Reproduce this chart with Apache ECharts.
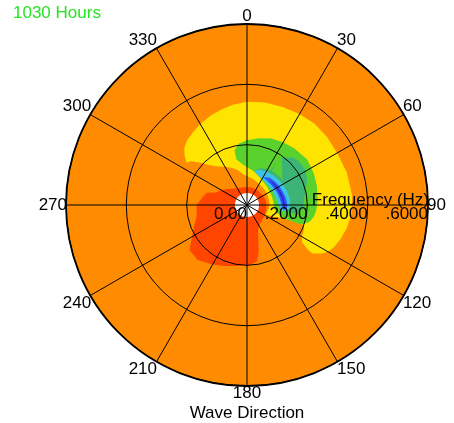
<!DOCTYPE html>
<html>
<head>
<meta charset="utf-8">
<script src="https://cdn.jsdelivr.net/npm/echarts/dist/echarts.min.js"></script>
<style>
	body { margin: 0; background: #fff; }
	#main { width: 454px; height: 423px; }
</style>
</head>
<body>
<div id="main"></div>
<script>
// frequency range of the spectrum (Hz)
var minFreq = 0.04;
var maxFreq = 0.6;

// each band: direction (deg, from north, clockwise), inner and outer frequency (Hz)
var yellowDir = [305, 308, 312, 317, 323, 330, 338, 345, 352, 0, 10, 20, 30, 40, 50, 60, 72, 85, 95, 103, 110, 116, 120, 123, 126.5];
var yellowIn  = [.245, .235, .21, .18, .16, .146, .132, .12, .105, .095, .09, .085, .08, .078, .077, .076, .075, .075, .074, .072, .07, .068, .068, .068, .27];
var yellowOut = [.245, .262, .28, .292, .30, .31, .32, .328, .336, .342, .345, .346, .348, .35, .348, .345, .348, .35, .347, .34, .33, .32, .31, .295, .27];

var wedgeDir = [109, 110, 113, 115.5, 117, 120, 124, 127, 130];
var wedgeIn  = [.19, .127, .105, .085, .068, .065, .065, .065, .065];
var wedgeOut = [.19, .2, .205, .207, .208, .21, .22, .26, .27];

var greenDir = [347, 352, 0, 10, 20, 30, 40, 53, 65, 75, 86, 95, 100, 105, 108, 110];
var greenIn  = [.155, .14, .125, .115, .105, .097, .092, .088, .087, .087, .088, .09, .095, .105, .12, .13];
var greenOut = [.185, .205, .215, .225, .235, .24, .245, .25, .245, .24, .235, .23, .225, .215, .2, .185];

var seaDir = [12, 20, 28, 34, 37, 44, 50, 59, 68, 76, 85, 93, 100];
var seaIn  = [.118, .12, .124, .126, .127, .13, .132, .135, .138, .14, .142, .138, .13];
var seaOut = [.118, .13, .136, .14, .195, .22, .225, .226, .215, .2, .19, .185, .165];

var notchDir = [36, 40, 45, 50, 55];
var notchIn  = [.14, .141, .142, .143, .144];
var notchOut = [.197, .18, .165, .152, .144];

var cyanDir = [12, 20, 30, 40, 50, 60, 70, 80, 90, 96, 100];
var cyanIn  = [.115, .106, .099, .096, .095, .096, .098, .1, .104, .11, .122];
var cyanOut = [.115, .124, .128, .131, .134, .137, .14, .143, .144, .138, .122];

var blueDir = [30, 40, 50, 60, 70, 80, 90, 95, 98];
var blueIn  = [.107, .104, .104, .106, .108, .111, .115, .119, .124];
var blueOut = [.107, .118, .121, .124, .127, .131, .134, .132, .124];

var navyDir = [42, 50, 60, 70, 80, 90, 95];
var navyIn  = [.111, .11, .112, .114, .117, .121, .125];
var navyOut = [.111, .115, .118, .121, .124, .127, .125];

var redDir = [0, 15, 30, 45, 60, 75, 90, 105, 120, 135, 150, 156, 162, 166, 170, 178, 190, 200, 210, 222, 232, 240, 250, 257, 270, 280, 287, 292, 300, 310, 320, 330, 345];
var redOut = [.06, .06, .06, .06, .062, .064, .065, .066, .068, .07, .08, .09, .12, .16, .19, .2, .205, .215, .228, .245, .242, .21, .185, .171, .167, .15, .14, .11, .1, .083, .07, .065, .06];

// drawn in this order, later ones on top
var layers = [
	{ color: '#ff8c00', disk: true, inner: [minFreq], outer: [maxFreq] },
	{ color: '#ffe400', dir: yellowDir, inner: yellowIn, outer: yellowOut },
	{ color: '#ff8c00', dir: wedgeDir, inner: wedgeIn, outer: wedgeOut },
	{ color: '#5ad22d', dir: greenDir, inner: greenIn, outer: greenOut },
	{ color: '#3cb476', dir: seaDir, inner: seaIn, outer: seaOut },
	{ color: '#5ad22d', dir: notchDir, inner: notchIn, outer: notchOut },
	{ color: '#3cc3e6', dir: cyanDir, inner: cyanIn, outer: cyanOut },
	{ color: '#2d5aff', dir: blueDir, inner: blueIn, outer: blueOut },
	{ color: '#3228c8', dir: navyDir, inner: navyIn, outer: navyOut },
	{ color: '#ff4500', dir: redDir, inner: null, outer: redOut },
	{ color: '#ffffff', disk: true, inner: [0], outer: [minFreq] }
];

var font = 'Liberation Sans, Arial, sans-serif';

function renderLayer(params, api) {
	var layer = layers[api.value(2)];
	var c = api.coord([0, 90]);
	if (layer.disk) {
		var p0 = api.coord([layer.inner[0], 90]);
		var p1 = api.coord([layer.outer[0], 90]);
		return {
			type: 'sector',
			shape: { cx: c[0], cy: c[1], r0: p0[0] - c[0], r: p1[0] - c[0], startAngle: 0, endAngle: Math.PI * 2 },
			style: { fill: layer.color }
		};
	}
	var pts = [];
	for (var i = 0; i < layer.dir.length; i++) {
		pts.push(api.coord([layer.outer[i], layer.dir[i]]));
	}
	if (layer.inner) {
		for (var j = layer.dir.length - 1; j >= 0; j--) {
			pts.push(api.coord([layer.inner[j], layer.dir[j]]));
		}
	}
	return {
		type: 'polygon',
		shape: { points: pts },
		style: { fill: layer.color }
	};
}

var myChart = echarts.init(document.getElementById('main'));
var option = {
	animation: false,
	title: [{
		text: '1030 Hours',
		left: 13,
		top: 5,
		padding: 0,
		textStyle: { color: '#22e622', fontSize: 17, fontWeight: 'normal', fontFamily: font }
	}, {
		text: 'Wave Direction',
		left: 247,
		top: 405,
		textAlign: 'center',
		padding: 0,
		textStyle: { color: '#000', fontSize: 17, fontWeight: 'normal', fontFamily: font }
	}, {
		// radial axis name, sits on the 90 degree line
		text: 'Frequency (Hz)',
		left: 429,
		top: 192,
		textAlign: 'right',
		padding: 0,
		textStyle: { color: '#000', fontSize: 17, fontWeight: 'normal', fontFamily: font }
	}],
	polar: {
		center: [247, 205],
		radius: 181
	},
	angleAxis: {
		type: 'value',
		min: 90,
		max: 450,
		interval: 30,
		startAngle: 0,
		clockwise: true,
		z: 10,
		axisLine: { lineStyle: { color: '#000', width: 1.8 } },
		axisTick: { show: false },
		splitLine: { show: true, lineStyle: { color: '#000', width: 1 } },
		axisLabel: {
			margin: -1,
			color: '#000',
			fontSize: 17,
			fontFamily: font,
			formatter: function (v) { return String(v % 360); }
		}
	},
	radiusAxis: {
		type: 'value',
		min: 0,
		max: maxFreq,
		interval: 0.2,
		z: 10,
		axisLine: { show: false },
		axisTick: { show: false },
		splitLine: { show: true, lineStyle: { color: '#000', width: 1 } },
		axisLabel: {
			margin: -1,
			align: 'right',
			verticalAlign: 'top',
			color: '#000',
			fontSize: 17,
			fontFamily: font,
			formatter: function (v) { return v === 0 ? '0.00' : v.toFixed(4).replace(/^0/, ''); }
		}
	},
	series: [{
		type: 'custom',
		coordinateSystem: 'polar',
		silent: true,
		renderItem: renderLayer,
		data: layers.map(function (l, i) { return [0, 90, i]; })
	}]
};
myChart.setOption(option);
</script>
</body>
</html>
